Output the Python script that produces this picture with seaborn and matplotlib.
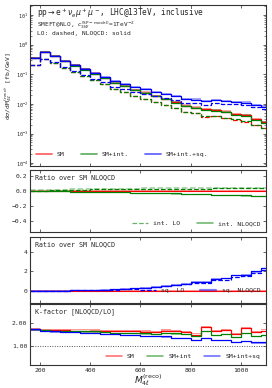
import numpy as np
import pandas as pd
import matplotlib
matplotlib.use("Agg")
import matplotlib.pyplot as plt
import seaborn as sns
from matplotlib.lines import Line2D

# bin edges of M4l (reco), GeV
edges = np.arange(160, 1121, 40)

# SM NLOQCD cross section per bin [fb/GeV]
sm_nlo = [0.36, 0.57, 0.41, 0.28, 0.20, 0.147, 0.105, 0.075, 0.052, 0.040, 0.030, 0.024,
          0.0185, 0.0148, 0.0115, 0.0088, 0.0075, 0.0066, 0.0062, 0.0055, 0.0045, 0.0043,
          0.0031, 0.0025]

# ratios over SM NLOQCD
int_lo = [0.0, 0.005, 0.010, 0.012, 0.015, 0.017, 0.020, 0.022, 0.024, 0.025, 0.026, 0.027,
          0.028, 0.029, 0.030, 0.030, 0.031, 0.032, 0.033, 0.034, 0.034, 0.035, 0.035, 0.036]
int_nlo = [0.0, -0.002, -0.004, -0.006, -0.008, -0.010, -0.012, -0.014, -0.017, -0.019, -0.022,
           -0.025, -0.028, -0.031, -0.034, -0.037, -0.040, -0.044, -0.048, -0.052, -0.056,
           -0.061, -0.066, -0.072]
sq_lo = [0.0, 0.0, 0.01, 0.02, 0.035, 0.05, 0.07, 0.10, 0.13, 0.18, 0.23, 0.30, 0.38, 0.47,
         0.56, 0.67, 0.80, 0.82, 1.08, 1.12, 1.45, 1.50, 1.85, 2.15]
sq_nlo = [0.0, 0.0, 0.01, 0.02, 0.04, 0.06, 0.08, 0.11, 0.15, 0.20, 0.26, 0.33, 0.42, 0.52,
          0.62, 0.74, 0.90, 0.92, 1.22, 1.28, 1.60, 1.62, 1.98, 2.30]

# K-factors NLOQCD/LO
k_sm = [1.72, 1.69, 1.68, 1.68, 1.67, 1.67, 1.66, 1.65, 1.64, 1.63, 1.63, 1.62, 1.60, 1.66,
        1.63, 1.61, 1.50, 1.82, 1.64, 1.70, 1.52, 1.76, 1.60, 1.67]
k_int = [1.72, 1.68, 1.67, 1.66, 1.65, 1.64, 1.63, 1.61, 1.58, 1.57, 1.56, 1.55, 1.54, 1.57,
         1.55, 1.53, 1.43, 1.66, 1.47, 1.53, 1.40, 1.57, 1.44, 1.48]
k_sq = [1.72, 1.66, 1.64, 1.62, 1.60, 1.57, 1.56, 1.54, 1.52, 1.49, 1.47, 1.44, 1.43, 1.42,
        1.37, 1.36, 1.26, 1.36, 1.27, 1.27, 1.19, 1.23, 1.17, 1.17]

RED, GREEN, BLUE = "#ff0000", "#008000", "#0000ff"

sm = np.array(sm_nlo)
curves = {
    "SM": (sm, sm / np.array(k_sm), RED),
    "SM+int.": (sm * (1 + np.array(int_nlo)), sm * (1 + np.array(int_nlo)) / np.array(k_int), GREEN),
    "SM+int.+sq.": (sm * (1 + np.array(int_nlo) + np.array(sq_nlo)),
                    sm * (1 + np.array(int_nlo) + np.array(sq_nlo)) / np.array(k_sq), BLUE),
}

sns.set_theme(style="ticks")
plt.rcParams["font.family"] = ["DejaVu Sans Mono", "DejaVu Sans"]
plt.rcParams["mathtext.fontset"] = "dejavusans"
plt.rcParams["font.size"] = 5


def step_df(vals):
    v = np.asarray(vals, dtype=float)
    return pd.DataFrame({"x": edges, "y": np.append(v, v[-1])})


def step(ax, vals, color, ls="-", lw=0.9, alpha=1.0):
    d = step_df(vals)
    sns.lineplot(data=d, x="x", y="y", ax=ax, color=color, lw=lw, ls=ls, alpha=alpha,
                 drawstyle="steps-post", estimator=None, sort=False, legend=False)


def band(ax, lo, hi, color, alpha=0.35):
    lo = np.append(lo, lo[-1])
    hi = np.append(hi, hi[-1])
    ax.fill_between(edges, lo, hi, step="post", color=color, alpha=alpha, lw=0)


fig = plt.figure(figsize=(2.72, 3.88), dpi=100)
L, W = 30 / 272, 236 / 272
ax1 = fig.add_axes([L, 1 - 166 / 388, W, 161 / 388])
ax2 = fig.add_axes([L, 1 - 232 / 388, W, 62 / 388])
ax3 = fig.add_axes([L, 1 - 303 / 388, W, 66 / 388])
ax4 = fig.add_axes([L, 1 - 365 / 388, W, 61 / 388])

# main panel
for name, (nlo, lo, c) in curves.items():
    band(ax1, nlo * 0.93, nlo * 1.1, c)
    step(ax1, nlo, c)
    step(ax1, lo, c, ls="--")
ax1.set_yscale("log")
ax1.set_ylim(8e-5, 22)
ax1.text(0.03, 0.992, r"pp$\rightarrow$e$^+\nu_e\mu^+\mu^-$, LHC@13TeV, inclusive",
         transform=ax1.transAxes, fontsize=5.6, va="top")
ax1.text(0.03, 0.908, r"SMEFT@NLO, $c_{3W}^{(\rm SP-model)}$=1TeV$^{-2}$",
         transform=ax1.transAxes, fontsize=4.4, va="top")
ax1.text(0.03, 0.836, "LO: dashed, NLOQCD: solid", transform=ax1.transAxes, fontsize=4.5, va="top")
h1 = [Line2D([], [], color=c, lw=1.3, alpha=0.6) for c in (RED, GREEN, BLUE)]
ax1.legend(h1, list(curves.keys()), loc="lower left", ncol=3, frameon=False, fontsize=4.6,
           handlelength=2.5, columnspacing=2.5, bbox_to_anchor=(0.0, 0.02))

# interference ratio
band(ax2, np.full(24, -0.008), np.full(24, 0.008), RED, 0.4)
step(ax2, np.zeros(24), RED, lw=0.8)
band(ax2, np.array(int_nlo) - 0.014, np.array(int_nlo) - 0.002, GREEN, 0.35)
step(ax2, int_nlo, GREEN)
step(ax2, np.array(int_lo) + 0.006, GREEN, ls="--", alpha=0.4, lw=1.1)
step(ax2, int_lo, GREEN, ls="--")
ax2.set_ylim(-0.55, 0.28)
ax2.set_yticks([0.2, 0.0, -0.2, -0.4])
ax2.text(0.02, 0.93, "Ratio over SM NLOQCD", transform=ax2.transAxes, fontsize=4.8, va="top")
h2 = [Line2D([], [], color=GREEN, ls="--", lw=0.9, alpha=0.6),
      Line2D([], [], color=GREEN, lw=1.1, alpha=0.6)]
ax2.legend(h2, ["int. LO", "int. NLOQCD"], loc="lower right", ncol=2, frameon=False,
           fontsize=4.6, handlelength=2.5, columnspacing=2.5)

# squared ratio
band(ax3, np.full(24, -0.06), np.full(24, 0.06), RED, 0.4)
step(ax3, np.zeros(24), RED, lw=0.8)
band(ax3, np.array(sq_nlo) - 0.12, np.array(sq_nlo) + 0.05, BLUE, 0.35)
step(ax3, sq_nlo, BLUE)
step(ax3, sq_lo, BLUE, ls="--")
ax3.set_ylim(-1.25, 5.5)
ax3.set_yticks([0, 2, 4])
ax3.text(0.02, 0.93, "Ratio over SM NLOQCD", transform=ax3.transAxes, fontsize=4.8, va="top")
h3 = [Line2D([], [], color=BLUE, ls="--", lw=0.9),
      Line2D([], [], color=BLUE, lw=1.6, alpha=0.5)]
ax3.legend(h3, ["sq. LO", "sq. NLOQCD"], loc="lower right", ncol=2, frameon=False,
           fontsize=4.6, handlelength=2.5, columnspacing=2.5, bbox_to_anchor=(1.0, 0.06))

# K-factors
for k, c, off in ((k_sm, RED, 0.03), (k_int, GREEN, -0.03), (k_sq, BLUE, -0.03)):
    band(ax4, np.array(k) + off - 0.025, np.array(k) + off + 0.025, c, 0.4)
    step(ax4, k, c)
ax4.axhline(1.0, color="#555555", ls=(0, (1, 1.5)), lw=0.7)
ax4.set_ylim(0.2, 2.8)
ax4.set_yticks([1.0, 2.0])
ax4.set_yticklabels(["1.00", "2.00"])
ax4.text(0.02, 0.93, "K-factor [NLOQCD/LO]", transform=ax4.transAxes, fontsize=4.8, va="top")
h4 = [Line2D([], [], color=c, lw=1.1, alpha=0.6) for c in (RED, GREEN, BLUE)]
ax4.legend(h4, ["SM", "SM+int", "SM+int+sq"], loc="lower right", ncol=3, frameon=False,
           fontsize=4.6, handlelength=2.5, columnspacing=2.0)

for ax in (ax1, ax2, ax3, ax4):
    ax.set_xlim(160, 1100)
    ax.set_xticks([200, 400, 600, 800, 1000])
    ax.tick_params(direction="in", top=True, right=True, labelsize=4.6, length=2.5,
                   width=0.5, pad=2)
    ax.tick_params(which="minor", direction="in", top=True, right=True, length=1.3, width=0.4)
    for s in ax.spines.values():
        s.set_linewidth(0.8)
        s.set_color("#333333")
    ax.set_ylabel("")
    if ax is not ax4:
        ax.set_xticklabels([])
    ax.set_xlabel("")

ax1.tick_params(axis="y", labelsize=3.7, pad=1.2)
ax1.set_ylabel(r"d$\sigma$/dM$_{4\ell}^{\rm (reco)}$ [fb/GeV]", fontsize=4.6)
ax1.yaxis.set_label_coords(-0.064, 0.5)
ax4.set_xlabel(r"$M_{4\ell}^{(\rm reco)}$", fontsize=6.5, labelpad=0)

fig.savefig("out.png", dpi=100)
